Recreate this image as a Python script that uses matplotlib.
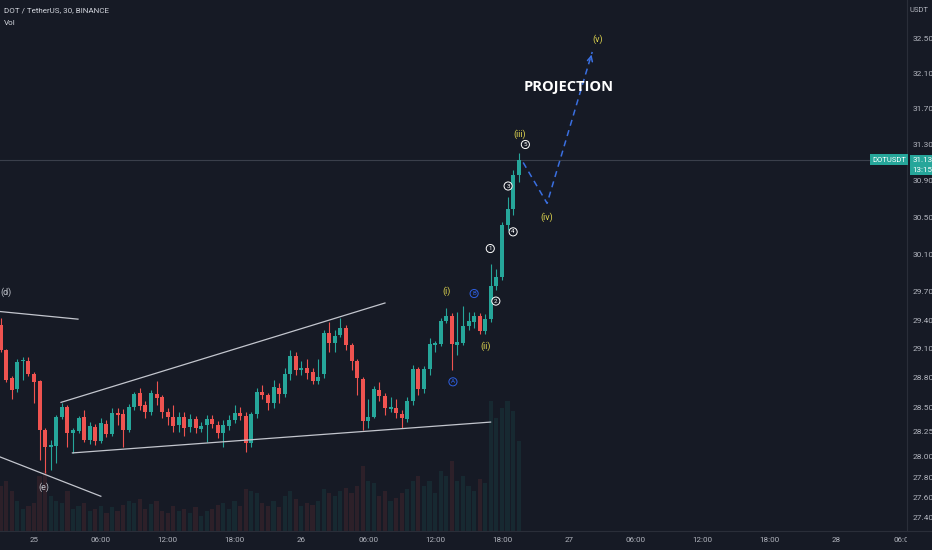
import numpy as np
import matplotlib.pyplot as plt
from matplotlib.ticker import FixedLocator, NullLocator, FixedFormatter
import matplotlib.transforms as mtransforms

plt.rcParams['font.family'] = ['Roboto', 'DejaVu Sans']

# DOTUSDT 30m candles, index 0 = 25th 00:00
candle_idx = list(range(-6, 88))
opens = [29.35, 29.09, 28.80, 28.69, 28.97, 28.97, 28.84, 28.77, 28.27, 28.10,
         28.11, 28.40, 28.50, 28.24, 28.26, 28.40, 28.17, 28.30, 28.16, 28.33,
         28.23, 28.44, 28.43, 28.27, 28.50, 28.65, 28.52, 28.45, 28.64, 28.60,
         28.45, 28.40, 28.32, 28.40, 28.30, 28.38, 28.28, 28.32, 28.38, 28.32,
         28.24, 28.31, 28.37, 28.44, 28.41, 28.14, 28.43, 28.66, 28.63, 28.54,
         28.70, 28.64, 28.84, 29.03, 28.88, 28.90, 28.86, 28.77, 28.84, 29.27,
         29.16, 29.24, 29.32, 29.14, 28.97, 28.79, 28.36, 28.40, 28.68, 28.62,
         28.48, 28.49, 28.43, 28.38, 28.56, 28.89, 28.69, 28.89, 29.14, 29.15,
         29.39, 29.44, 29.14, 29.16, 29.34, 29.38, 29.44, 29.29, 29.41, 29.76,
         29.86, 30.41, 30.59, 30.96]
highs = [29.42, 29.10, 28.82, 28.99, 29.02, 29.02, 28.86, 28.78, 28.29, 28.17,
         28.42, 28.54, 28.52, 28.29, 28.41, 28.47, 28.35, 28.33, 28.39, 28.37,
         28.49, 28.49, 28.48, 28.53, 28.66, 28.70, 28.56, 28.68, 28.77, 28.63,
         28.49, 28.52, 28.45, 28.45, 28.43, 28.41, 28.35, 28.42, 28.42, 28.36,
         28.37, 28.42, 28.52, 28.50, 28.45, 28.45, 28.70, 28.73, 28.65, 28.78,
         28.75, 28.90, 29.09, 29.07, 28.97, 29.00, 28.90, 29.00, 29.30, 29.38,
         29.30, 29.42, 29.35, 29.16, 28.99, 28.81, 28.58, 28.72, 28.76, 28.65,
         28.60, 28.58, 28.47, 28.60, 28.93, 28.91, 28.92, 29.21, 29.18, 29.42,
         29.53, 29.47, 29.48, 29.55, 29.49, 29.49, 29.47, 29.46, 29.99, 29.94,
         30.45, 30.72, 31.02, 31.20]
lows = [29.07, 28.76, 28.58, 28.66, 28.78, 28.82, 28.54, 27.97, 27.84, 27.87,
        27.94, 28.38, 28.10, 28.04, 28.24, 28.15, 28.13, 28.12, 28.14, 28.20,
        28.21, 28.32, 28.10, 28.25, 28.47, 28.47, 28.39, 28.42, 28.52, 28.39,
        28.32, 28.25, 28.25, 28.21, 28.25, 28.24, 28.25, 28.15, 28.29, 28.19,
        28.10, 28.27, 28.34, 28.37, 28.05, 28.10, 28.39, 28.58, 28.47, 28.49,
        28.54, 28.60, 28.78, 28.83, 28.83, 28.79, 28.74, 28.74, 28.80, 29.07,
        29.07, 29.22, 29.09, 28.88, 28.63, 28.27, 28.29, 28.39, 28.56, 28.42,
        28.45, 28.39, 28.29, 28.35, 28.52, 28.63, 28.65, 28.83, 29.07, 29.13,
        29.37, 28.88, 29.04, 29.14, 29.30, 29.32, 29.25, 29.25, 29.38, 29.72,
        29.82, 30.36, 30.52, 30.88]
closes = [29.09, 28.78, 28.68, 28.96, 28.98, 28.84, 28.76, 28.27, 28.10, 28.12,
          28.40, 28.50, 28.24, 28.27, 28.39, 28.17, 28.31, 28.16, 28.34, 28.23,
          28.44, 28.42, 28.27, 28.50, 28.64, 28.51, 28.45, 28.65, 28.59, 28.45,
          28.40, 28.31, 28.40, 28.29, 28.38, 28.29, 28.31, 28.38, 28.33, 28.24,
          28.32, 28.37, 28.44, 28.41, 28.14, 28.43, 28.66, 28.63, 28.54, 28.71,
          28.64, 28.84, 29.03, 28.88, 28.90, 28.85, 28.77, 28.81, 29.27, 29.16,
          29.23, 29.32, 29.14, 28.97, 28.80, 28.36, 28.40, 28.69, 28.61, 28.49,
          28.50, 28.44, 28.39, 28.56, 28.89, 28.69, 28.89, 29.15, 29.16, 29.39,
          29.44, 29.15, 29.17, 29.34, 29.39, 29.44, 29.29, 29.41, 29.76, 29.86,
          30.41, 30.59, 30.96, 31.13]
volume = [45, 50, 40, 30, 22, 25, 28, 55, 60, 35,
          30, 28, 40, 22, 25, 28, 20, 22, 25, 18,
          24, 20, 26, 30, 28, 32, 22, 27, 30, 20,
          18, 25, 20, 22, 18, 24, 15, 20, 22, 26,
          28, 22, 30, 25, 42, 40, 38, 28, 25, 30,
          24, 35, 40, 32, 25, 28, 26, 30, 42, 38,
          35, 40, 43, 38, 45, 65, 50, 48, 35, 40,
          30, 33, 38, 42, 50, 55, 45, 50, 38, 60,
          55, 70, 50, 55, 45, 40, 52, 48, 130, 113,
          123, 130, 120, 90]

last_price = 31.13
price_ticks = [27.40, 27.60, 27.80, 28.00, 28.25, 28.50, 28.80, 29.10, 29.40,
               29.70, 30.10, 30.50, 30.90, 31.30, 31.70, 32.10, 32.50]
time_pos = [0, 12, 24, 36, 48, 60, 72, 84, 96, 108, 120, 132, 144, 156]
time_lab = ['25', '06:00', '12:00', '18:00', '26', '06:00', '12:00', '18:00',
            '27', '06:00', '12:00', '18:00', '28', '06:00']

# drawn lines: (index, price) pairs
trend_lines = [
    [(-6.1, 29.49), (7.9, 29.41)],
    [(-6.1, 28.00), (12.0, 27.61)],
    [(4.85, 28.55), (63.0, 29.58)],
    [(6.9, 28.04), (81.96, 28.35)],
]
projection = [(87.8, 31.10), (92.1, 30.65), (100.2, 32.35)]

wave_labels = [('(i)', 74.1, 29.70), ('(ii)', 81.0, 29.13), ('(iii)', 87.1, 31.41),
               ('(iv)', 92.1, 30.50), ('(v)', 101.1, 32.50)]
sub_labels = [('1', 81.9, 30.16), ('2', 82.9, 29.60), ('3', 85.1, 30.84),
              ('4', 86.0, 30.34), ('5', 88.2, 31.30)]
abc_labels = [('A', 75.2, 28.76), ('B', 79.0, 29.68)]
old_labels = [('(d)', -5.1, 29.69), ('(e)', 1.8, 27.70)]

BG = '#161a25'
UP = '#26a69a'
DN = '#ef5350'
TXT = '#b2b5be'
SEP = '#2a2e39'

fig = plt.figure(figsize=(9.32, 5.5), dpi=100, facecolor=BG)
ax = fig.add_axes([0, 19 / 550, 907 / 932, 531 / 550], facecolor=BG)
axv = ax.twinx()
axv.set_zorder(0)
ax.set_zorder(1)
ax.patch.set_visible(False)
axv.patch.set_visible(True)
axv.patch.set_facecolor(BG)

idx = np.array(candle_idx)
o = np.array(opens); h = np.array(highs); l = np.array(lows); c = np.array(closes)
up = c >= o
cols = np.where(up, UP, DN)

# volume
axv.bar(idx, volume, width=0.75, color=cols, alpha=0.11, linewidth=0)
axv.set_ylim(0, max(volume) * 4.1)
axv.set_yticks([])

# candles
ax.vlines(idx, l, h, colors=cols, linewidth=0.8, zorder=3)
body_lo = np.minimum(o, c)
body_h = np.maximum(np.abs(c - o), 0.012)
ax.bar(idx, body_h, bottom=body_lo, width=0.72, color=cols, linewidth=0, zorder=4)

ax.set_yscale('log')
ax.set_ylim(27.27, 32.955)
ax.set_xlim(-6.1, 156.7)
ax.yaxis.set_major_locator(FixedLocator(price_ticks))
ax.yaxis.set_major_formatter(FixedFormatter(['%.2f' % p for p in price_ticks]))
ax.yaxis.set_minor_locator(NullLocator())
ax.yaxis.tick_right()
ax.tick_params(axis='y', length=0, pad=4, labelsize=6, labelcolor=TXT)
ax.set_xticks([])
for s in ['top', 'left', 'bottom']:
    ax.spines[s].set_visible(False)
    axv.spines[s].set_visible(False)
ax.spines['right'].set_color(SEP)
axv.spines['right'].set_visible(False)

# last price line
ax.axhline(last_price, color='#3a3f4b', linewidth=0.8, zorder=2)

for line in trend_lines:
    xs, ys = zip(*line)
    ax.plot(xs, ys, color='#c3c6ce', linewidth=0.9, zorder=5)

px, py = zip(*projection)
ax.plot(px, py, color='#3a6fe0', linewidth=1.1, linestyle=(0, (4, 3)), zorder=5)
ax.annotate('', xy=projection[-1], xytext=(projection[-1][0] - 0.35, projection[-1][1] - 0.09),
            arrowprops=dict(arrowstyle='->', color='#3a6fe0', lw=1.1, mutation_scale=9), zorder=5)

for t, x, y in wave_labels:
    ax.text(x, y, t, color='#e0d64f', fontsize=6.5, ha='center', va='center', zorder=6)
for t, x, y in sub_labels:
    ax.text(x, y, t, color='white', fontsize=4.5, ha='center', va='center', zorder=6,
            bbox=dict(boxstyle='circle,pad=0.25', fc=BG, ec='white', lw=0.7))
for t, x, y in abc_labels:
    ax.text(x, y, t, color='#2e5fe0', fontsize=4.5, ha='center', va='center', zorder=6,
            bbox=dict(boxstyle='circle,pad=0.25', fc='none', ec='#2e5fe0', lw=0.7))
for t, x, y in old_labels:
    ax.text(x, y, t, color='#c3c6ce', fontsize=6.5, ha='center', va='center', zorder=6,
            clip_on=True)

ax.text(96.0, 31.95, 'PROJECTION', color='white', fontsize=10.5, fontweight='bold',
        ha='center', va='center', zorder=6, family=['Open Sans', 'DejaVu Sans'])

# header
fig.text(4 / 932, 1 - 10 / 550, 'DOT / TetherUS, 30, BINANCE', color='#d1d4dc',
         fontsize=5.8, ha='left', va='center')
fig.text(4 / 932, 1 - 23 / 550, 'Vol', color='#d1d4dc', fontsize=5.8, ha='left', va='center')
fig.text(919 / 932, 1 - 10 / 550, 'USDT', color=TXT, fontsize=5.5, ha='center', va='center')

# last price tags
bl = mtransforms.blended_transform_factory(ax.transAxes, ax.transData)
ax.text(0.999, last_price, 'DOTUSDT', transform=bl, color='white', fontsize=5.5,
        ha='right', va='center', zorder=7,
        bbox=dict(boxstyle='square,pad=0.3', fc=UP, ec='none'))
ax.text(1.006, last_price, '31.13', transform=bl, color='white', fontsize=5.8,
        ha='left', va='center', zorder=7, clip_on=False,
        bbox=dict(boxstyle='square,pad=0.25', fc=UP, ec='none'))
ax.text(1.006, 31.015, '13:15', transform=bl, color='white', fontsize=5.8,
        ha='left', va='center', zorder=7, clip_on=False,
        bbox=dict(boxstyle='square,pad=0.25', fc=UP, ec='none'))

# time axis strip
axt = fig.add_axes([0, 0, 907 / 932, 19 / 550], facecolor=BG)
axt.set_xlim(ax.get_xlim())
axt.set_ylim(0, 1)
axt.axis('off')
for pos, lab in zip(time_pos, time_lab):
    axt.text(pos, 0.5, lab, color=TXT, fontsize=5.8, ha='center', va='center', clip_on=True)
fig.add_artist(plt.Line2D([0, 1], [19 / 550, 19 / 550], color=SEP, linewidth=0.8))

fig.savefig('out.png', dpi=100, facecolor=BG)
